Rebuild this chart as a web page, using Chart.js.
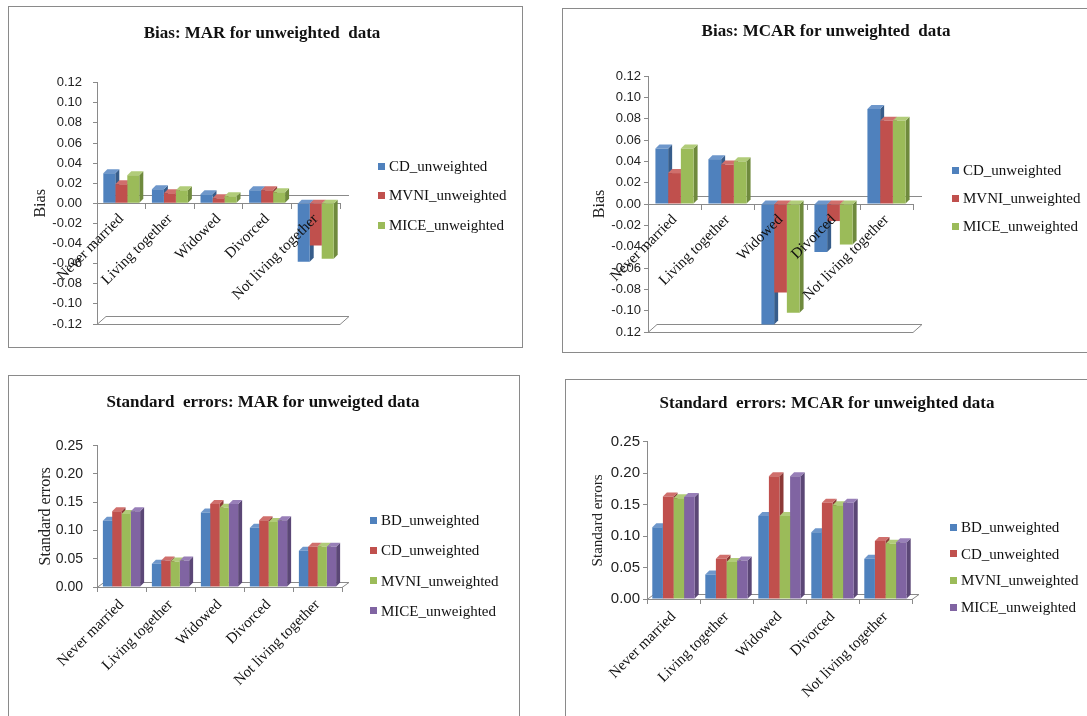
<!DOCTYPE html>
<html><head><meta charset="utf-8">
<script src="https://cdn.jsdelivr.net/npm/chart.js@4.4.0/dist/chart.umd.min.js"></script>
<style>
html,body{margin:0;padding:0;background:#fff}
body{width:1087px;height:716px;overflow:hidden;position:relative}
.panel{position:absolute;border:1px solid #8a8a8a;background:#fff;overflow:hidden}
.panel canvas{position:absolute;left:0;top:0}
</style></head><body>
<div class="panel" style="left:8px;top:6px;width:513px;height:340px"><canvas id="c1" width="513" height="340"></canvas></div>
<div class="panel" style="left:562px;top:8px;width:528px;height:343px"><canvas id="c2" width="528" height="343"></canvas></div>
<div class="panel" style="left:8px;top:375px;width:510px;height:348px"><canvas id="c3" width="510" height="348"></canvas></div>
<div class="panel" style="left:565px;top:379px;width:528px;height:343px"><canvas id="c4" width="528" height="343"></canvas></div>
<script>
// ---- data ----
const categories = ['Never married','Living together','Widowed','Divorced','Not living together'];
const biasSeriesNames = ['CD_unweighted','MVNI_unweighted','MICE_unweighted'];
const seSeriesNames = ['BD_unweighted','CD_unweighted','MVNI_unweighted','MICE_unweighted'];

const marBiasCD   = [0.030, 0.014, 0.009, 0.013, -0.058];
const marBiasMVNI = [0.019, 0.010, 0.005, 0.013, -0.042];
const marBiasMICE = [0.028, 0.013, 0.007, 0.011, -0.055];

const mcarBiasCD   = [0.052, 0.042, -0.113, -0.045, 0.089];
const mcarBiasMVNI = [0.029, 0.037, -0.083, -0.016, 0.078];
const mcarBiasMICE = [0.052, 0.040, -0.102, -0.038, 0.078];

const marSeBD   = [0.117, 0.041, 0.132, 0.105, 0.064];
const marSeCD   = [0.134, 0.047, 0.147, 0.118, 0.071];
const marSeMVNI = [0.129, 0.045, 0.140, 0.115, 0.071];
const marSeMICE = [0.134, 0.047, 0.147, 0.118, 0.071];

const mcarSeBD   = [0.114, 0.039, 0.132, 0.106, 0.064];
const mcarSeCD   = [0.163, 0.064, 0.195, 0.153, 0.092];
const mcarSeMVNI = [0.160, 0.059, 0.132, 0.149, 0.088];
const mcarSeMICE = [0.162, 0.061, 0.195, 0.153, 0.090];

const biasMarTickLabels  = ['-0.12','-0.10','-0.08','-0.06','-0.04','-0.02','0.00','0.02','0.04','0.06','0.08','0.10','0.12'];
const biasMcarTickLabels = ['0.12','-0.10','-0.08','-0.06','-0.04','-0.02','0.00','0.02','0.04','0.06','0.08','0.10','0.12'];
const seTickLabels = ['0.00','0.05','0.10','0.15','0.20','0.25'];

// ---- styles ----
const palette = [
  {front:'#4F81BD', side:'#375D8B', top:'#6E97CB'},
  {front:'#C0504D', side:'#8C3936', top:'#D06F6C'},
  {front:'#9BBB59', side:'#6F8A3D', top:'#B1CC79'},
  {front:'#8064A2', side:'#5B4776', top:'#987FB8'}
];
const serif = "'Liberation Serif','Times New Roman',serif";
const sans = "'Liberation Sans',Arial,sans-serif";
const axisColor = '#8a8a8a';

const depthPlugin = {
  id: 'depth3d',
  beforeDatasetsDraw(chart, args, o) {
    const {ctx, chartArea: ca} = chart;
    const ys = chart.scales.y;
    const poly = pts => { ctx.beginPath(); ctx.moveTo(pts[0][0], pts[0][1]); for (let k = 1; k < pts.length; k++) ctx.lineTo(pts[k][0], pts[k][1]); ctx.closePath(); };
    ctx.save();
    ctx.lineWidth = 1; ctx.strokeStyle = axisColor; ctx.fillStyle = '#fff';
    const fy = Math.round(ys.getPixelForValue(o.floorValue)) + 0.5;
    poly([[ca.left, fy], [ca.left + o.wallDx, fy - o.wallDy], [ca.right + o.wallDx, fy - o.wallDy], [ca.right, fy]]);
    ctx.fill(); ctx.stroke();
    if (o.backZero) {
      const zy = Math.round(ys.getPixelForValue(0)) + 0.5 - o.wallDy;
      ctx.beginPath(); ctx.moveTo(ca.left + o.wallDx, zy); ctx.lineTo(ca.right + o.wallDx, zy); ctx.stroke();
    }
    const d = o.barDepth;
    chart.data.datasets.forEach((ds, i) => {
      const meta = chart.getDatasetMeta(i);
      meta.data.forEach(bar => {
        const p = bar.getProps(['x','y','base','width'], true);
        const l = p.x - p.width / 2, r = p.x + p.width / 2;
        const t = Math.min(p.y, p.base), b = Math.max(p.y, p.base);
        ctx.fillStyle = ds.sideColor;
        poly([[r, t], [r + d, t - d], [r + d, b - d], [r, b]]); ctx.fill();
        ctx.fillStyle = ds.topColor;
        poly([[l, t], [l + d, t - d], [r + d, t - d], [r, t]]); ctx.fill();
      });
    });
    ctx.restore();
  }
};

const sideLegend = {
  id: 'sideLegend',
  afterDraw(chart, args, o) {
    const ctx = chart.ctx;
    ctx.save();
    ctx.font = o.font; ctx.textBaseline = 'middle'; ctx.textAlign = 'left';
    chart.data.datasets.forEach((ds, i) => {
      const y = o.y + i * o.gap;
      ctx.fillStyle = ds.backgroundColor;
      ctx.fillRect(o.x, Math.round(y - o.box / 2), o.box, o.box);
      ctx.fillStyle = '#111';
      ctx.fillText(ds.label, o.x + o.box + o.textGap, y + 1);
    });
    ctx.restore();
  }
};

const panelTitle = {
  id: 'panelTitle',
  afterDraw(chart, args, o) {
    const ctx = chart.ctx;
    ctx.save();
    ctx.font = o.font; ctx.textAlign = 'center'; ctx.textBaseline = 'middle'; ctx.fillStyle = '#111';
    ctx.fillText(o.text, o.x, o.y);
    ctx.restore();
  }
};

function makeDatasets(names, values, catPct) {
  return names.map((n, i) => ({
    label: n, data: values[i],
    backgroundColor: palette[i].front, sideColor: palette[i].side, topColor: palette[i].top,
    borderWidth: 0, categoryPercentage: catPct, barPercentage: 1.0
  }));
}

function buildChart(id, cfg) {
  const isBias = cfg.kind === 'bias';
  const xScale = {
    offset: true,
    grid: {display: true, drawOnChartArea: false, drawTicks: true, tickLength: 5, color: axisColor, offset: true},
    border: {display: true, color: axisColor},
    ticks: {autoSkip: false, minRotation: 45, maxRotation: 45, padding: cfg.xPad, color: '#111',
            font: {family: serif, size: cfg.xFont}}
  };
  if (isBias) { xScale.position = {y: 0}; xScale.ticks.z = 1; }
  else { xScale.position = 'bottom'; xScale.afterFit = s => { s.height = cfg.xHeight; }; }

  new Chart(document.getElementById(id), {
    type: 'bar',
    data: {labels: categories, datasets: makeDatasets(cfg.names, cfg.values, cfg.catPct)},
    options: {
      responsive: false, animation: false, devicePixelRatio: 1,
      layout: {padding: cfg.pad},
      plugins: {
        legend: {display: false},
        tooltip: {enabled: false},
        title: {display: false},
        panelTitle: {text: cfg.title, x: cfg.titleX, y: cfg.titleY, font: 'bold 17px ' + serif},
        depth3d: cfg.depth,
        sideLegend: cfg.legend
      },
      scales: {
        x: xScale,
        y: {
          min: cfg.min, max: cfg.max,
          ticks: {stepSize: cfg.step, padding: cfg.yPad, color: '#222',
                  font: {family: sans, size: cfg.yFont},
                  callback: (v, i) => cfg.tickLabels[i]},
          grid: {display: true, drawOnChartArea: false, drawTicks: true, tickLength: 4, color: axisColor},
          border: {display: true, color: axisColor},
          title: {display: true, text: cfg.yTitle, color: '#222', padding: {top: 0, bottom: 0},
                  font: {family: serif, size: cfg.yTitleFont}},
          afterFit: s => { s.width = cfg.yWidth; }
        }
      }
    },
    plugins: [depthPlugin, sideLegend, panelTitle]
  });
}

buildChart('c1', {
  kind: 'bias', title: 'Bias: MAR for unweighted  data', titleX: 253, titleY: 27, names: biasSeriesNames,
  values: [marBiasCD, marBiasMVNI, marBiasMICE], catPct: 0.74,
  min: -0.12, max: 0.12, step: 0.02, tickLabels: biasMarTickLabels, yTitle: 'Bias', yTitleFont: 16,
  pad: {left: 22, right: 182, top: 75.7, bottom: 23}, yWidth: 66, yPad: 11, yFont: 13,
  xPad: 2, xFont: 15,
  depth: {floorValue: -0.12, wallDx: 9, wallDy: 8, barDepth: 4, backZero: true},
  legend: {x: 369, y: 159, gap: 29.5, box: 7, textGap: 4, font: '15px ' + serif}
});

buildChart('c2', {
  kind: 'bias', title: 'Bias: MCAR for unweighted  data', titleX: 263, titleY: 23, names: biasSeriesNames,
  values: [mcarBiasCD, mcarBiasMVNI, mcarBiasMICE], catPct: 0.72,
  min: -0.12, max: 0.12, step: 0.02, tickLabels: biasMcarTickLabels, yTitle: 'Bias', yTitleFont: 16,
  pad: {left: 27, right: 178, top: 67, bottom: 20}, yWidth: 58, yPad: 3, yFont: 13,
  xPad: 2, xFont: 15,
  depth: {floorValue: -0.12, wallDx: 9, wallDy: 8, barDepth: 4, backZero: true},
  legend: {x: 389, y: 161, gap: 28, box: 7, textGap: 4, font: '15px ' + serif}
});

buildChart('c3', {
  kind: 'se', title: 'Standard  errors: MAR for unweigted data', titleX: 254, titleY: 27, names: seSeriesNames,
  values: [marSeBD, marSeCD, marSeMVNI, marSeMICE], catPct: 0.76,
  min: 0, max: 0.25, step: 0.05, tickLabels: seTickLabels, yTitle: 'Standard errors', yTitleFont: 16,
  pad: {left: 27, right: 177, top: 69.7, bottom: 37}, yWidth: 61, yPad: 10, yFont: 14,
  xPad: 4, xFont: 15, xHeight: 100,
  depth: {floorValue: 0, wallDx: 7, wallDy: 5, barDepth: 4, backZero: false},
  legend: {x: 361, y: 144, gap: 30.3, box: 7, textGap: 4, font: '15px ' + serif}
});

buildChart('c4', {
  kind: 'se', title: 'Standard  errors: MCAR for unweighted data', titleX: 261, titleY: 24, names: seSeriesNames,
  values: [mcarSeBD, mcarSeCD, mcarSeMVNI, mcarSeMICE], catPct: 0.8,
  min: 0, max: 0.25, step: 0.05, tickLabels: seTickLabels, yTitle: 'Standard errors', yTitleFont: 15,
  pad: {left: 23, right: 182, top: 61.7, bottom: 24}, yWidth: 58, yPad: 3, yFont: 15,
  xPad: 4, xFont: 15, xHeight: 100,
  depth: {floorValue: 0, wallDx: 7, wallDy: 5, barDepth: 4, backZero: false},
  legend: {x: 384, y: 147, gap: 26.7, box: 7, textGap: 4, font: '15px ' + serif}
});
</script>
</body></html>
